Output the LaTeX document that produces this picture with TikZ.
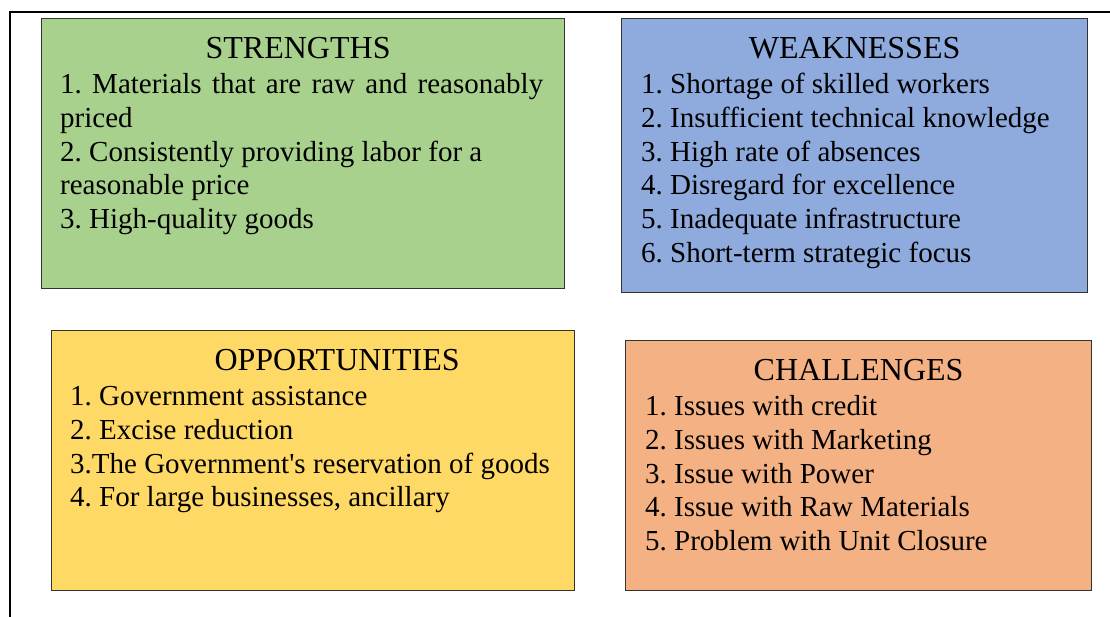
\documentclass[tikz,border=0pt]{standalone}
\usepackage{fontspec}
\setmainfont{Liberation Serif}
\usepackage{tikz}
\usetikzlibrary{positioning}

\definecolor{strengthgreen}{HTML}{A9D18E}
\definecolor{weakblue}{HTML}{8FAADC}
\definecolor{opporyellow}{HTML}{FFD966}
\definecolor{challorange}{HTML}{F4B183}

\begin{document}
\frenchspacing
\begin{tikzpicture}[x=1pt, y=-1pt,
    swotbox/.style={draw=black!80, line width=1.2pt, rectangle, anchor=north west, inner sep=0pt},
    titletext/.style={font=\fontsize{32}{33.7}\selectfont, inner sep=0pt, anchor=base},
    listtext/.style={font=\fontsize{29}{33.7}\selectfont, inner sep=0pt, align=left, anchor=north west}]
        \useasboundingbox (0,0) rectangle (1110,616);

        % Draw the outer frame
        \draw[line width=2.6pt] (10,630) |- (1120,12);

        % Draw the four boxes
        \node[swotbox, fill=strengthgreen, minimum width=523, minimum height=270] (strengths) at (41,18) {};
        \node[swotbox, fill=weakblue, minimum width=466, minimum height=274] (weaknesses) at (621,18) {};
        \node[swotbox, fill=opporyellow, minimum width=523, minimum height=260] (opportunities) at (51,330) {};
        \node[swotbox, fill=challorange, minimum width=466, minimum height=250] (challenges) at (625,340) {};

        % Add titles
        \node[titletext] (strengthstitle) at ([xshift=-5,yshift=-40]strengths.north) {STRENGTHS};
        \node[titletext] (weaknessestitle) at ([yshift=-40]weaknesses.north) {WEAKNESSES};
        \node[titletext] (opportunitiestitle) at ([xshift=24,yshift=-40]opportunities.north) {OPPORTUNITIES};
        \node[titletext] (challengestitle) at ([yshift=-40]challenges.north) {CHALLENGES};

        % Add the lists
        \node[listtext] (strengthslist) at ([xshift=19,yshift=-52]strengths.north west)
            {\strut\makebox[483pt][s]{1. Materials that are raw and reasonably}\\
             priced\\
             2. Consistently providing labor for a\\
             reasonable price\\
             3. High-quality goods};
        \node[listtext] (weaknesseslist) at ([xshift=20,yshift=-52]weaknesses.north west)
            {\strut 1. Shortage of skilled workers\\
             2. Insufficient technical knowledge\\
             3. High rate of absences\\
             4. Disregard for excellence\\
             5. Inadequate infrastructure\\
             6. Short-term strategic focus};
        \node[listtext] (opportunitieslist) at ([xshift=19,yshift=-52]opportunities.north west)
            {\strut 1. Government assistance\\
             2. Excise reduction\\
             3.The Government\textquotesingle s reservation of goods\\
             4. For large businesses, ancillary};
        \node[listtext] (challengeslist) at ([xshift=20,yshift=-52]challenges.north west)
            {\strut 1. Issues with credit\\
             2. Issues with Marketing\\
             3. Issue with Power\\
             4. Issue with Raw Materials\\
             5. Problem with Unit Closure};
    \end{tikzpicture}
\end{document}
